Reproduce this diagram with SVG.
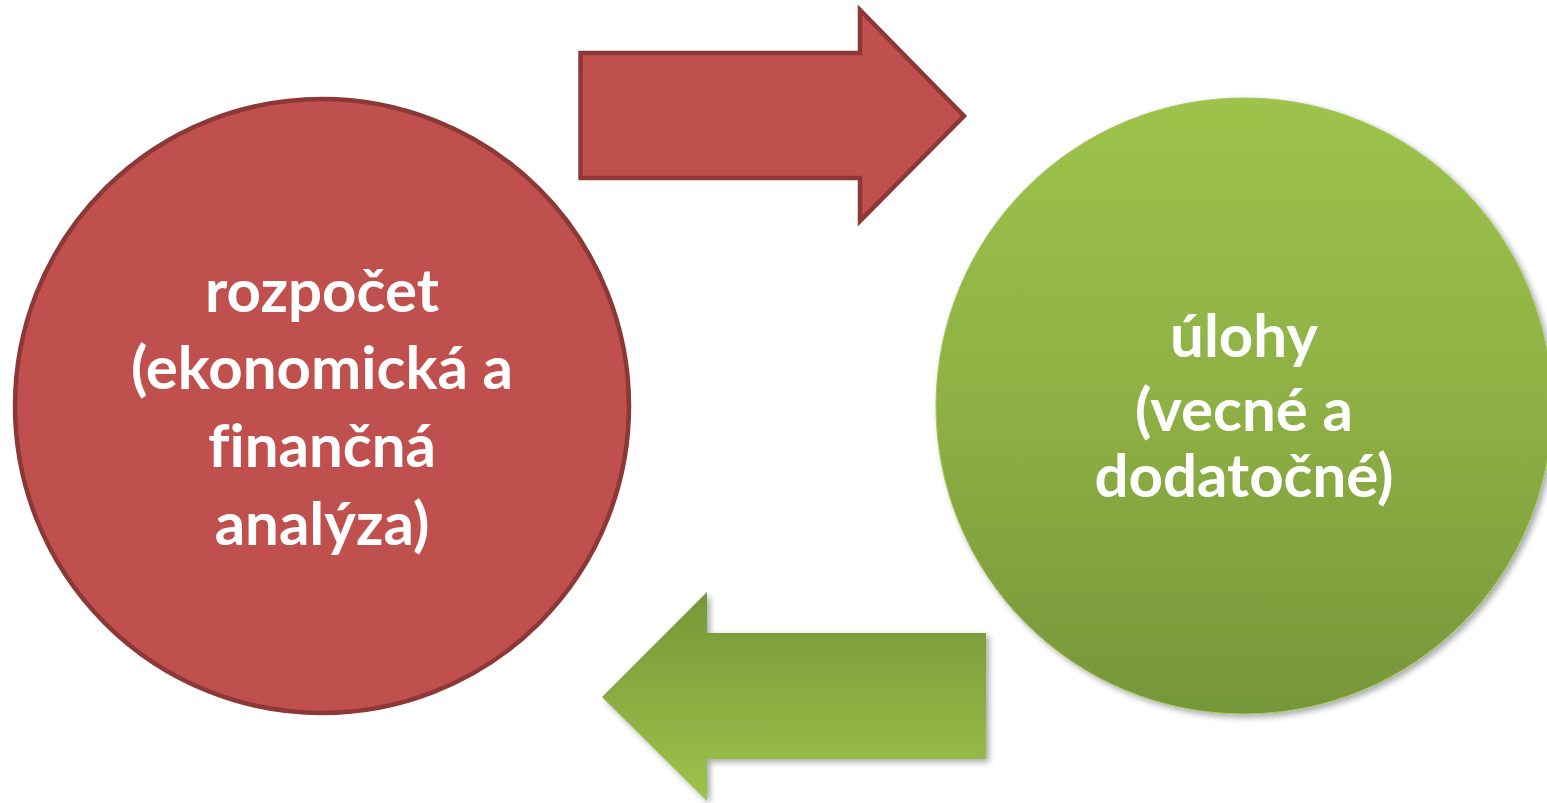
<svg xmlns="http://www.w3.org/2000/svg" width="1547" height="803" viewBox="0 0 1547 803">
<defs>
<linearGradient id="gCircle" x1="0" y1="0" x2="0" y2="1">
<stop offset="0" stop-color="#9dc34b"/>
<stop offset="0.5" stop-color="#8eb044"/>
<stop offset="1" stop-color="#76963a"/>
</linearGradient>
<linearGradient id="gArrow" x1="0" y1="0" x2="0" y2="1">
<stop offset="0" stop-color="#779639"/>
<stop offset="1" stop-color="#9dc34b"/>
</linearGradient>
<filter id="shadow" x="-10%" y="-10%" width="130%" height="130%">
<feGaussianBlur in="SourceAlpha" stdDeviation="3"/>
<feOffset dx="3" dy="3" result="b"/>
<feComponentTransfer><feFuncA type="linear" slope="0.35"/></feComponentTransfer>
<feMerge><feMergeNode/><feMergeNode in="SourceGraphic"/></feMerge>
</filter>
</defs>
<style>
.lbl{font-family:Lato,"Open Sans","Liberation Sans",sans-serif;font-weight:700;font-size:60px;fill:#ffffff;text-anchor:middle;font-variant-ligatures:none;font-feature-settings:"liga" 0}
.red{fill:#c0504d;stroke:#8c3836;stroke-width:4.5}
</style>
<rect width="1547" height="803" fill="#ffffff"/>
<g id="connectors">
<path id="arrow-right" class="red" stroke-width="5" stroke-linejoin="miter" d="M580.5,53 L860,53 L860,10 L964,116 L860,221 L860,178 L580.5,178 Z"/>
<path id="arrow-left" fill="url(#gArrow)" filter="url(#shadow)" d="M602,697 L707,592 L707,633 L986,633 L986,759 L707,759 L707,801 Z"/>
</g>
<g id="node-rozpocet">
<circle class="red" cx="322" cy="406" r="307"/>
<text class="lbl" x="322" y="312">rozpočet</text>
<text class="lbl" x="322" y="389">(ekonomická a</text>
<text class="lbl" x="322" y="467">finančná</text>
<text class="lbl" x="322" y="545">analýza)</text>
</g>
<g id="node-ulohy">
<circle cx="1244" cy="406" r="308" fill="url(#gCircle)" stroke="#a3c75c" stroke-width="1" filter="url(#shadow)"/>
<text class="lbl" x="1244" y="357">úlohy</text>
<text class="lbl" x="1244" y="431">(vecné a</text>
<text class="lbl" x="1244" y="497">dodatočné)</text>
</g>
</svg>
